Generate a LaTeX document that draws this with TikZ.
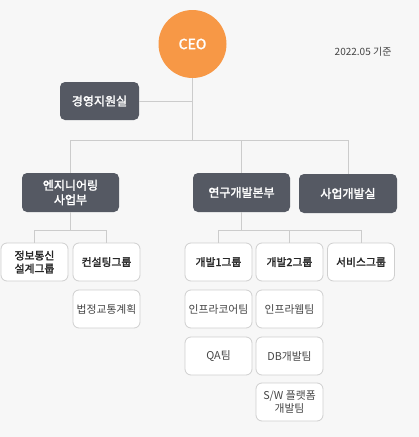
\documentclass[tikz,border=0pt]{standalone}
\usepackage{fontspec}
\setmainfont{Noto Sans CJK KR}
\newfontfamily\krbold{Noto Sans CJK KR}[FakeBold=2]
\definecolor{bgc}{HTML}{F7F7F7}
\definecolor{darkbox}{HTML}{555963}
\definecolor{orangec}{HTML}{F79846}
\definecolor{linec}{HTML}{CCCCCC}
\definecolor{boxline}{HTML}{CFCFCF}
\definecolor{grptext}{HTML}{262626}
\definecolor{teamtext}{HTML}{444444}
\begin{document}
\begin{tikzpicture}[x=1pt,y=-1pt,
  conn/.style={draw=linec, line width=0.9pt},
  darkbox/.style={rectangle, rounded corners=5pt, fill=darkbox, text=white, font=\krbold\fontsize{12}{14.5}\selectfont, align=center, inner sep=0pt},
  grpbox/.style={rectangle, rounded corners=6pt, fill=white, draw=boxline, line width=0.8pt, text=grptext, font=\krbold\fontsize{10.8}{13}\selectfont, align=center, inner sep=0pt, minimum width=67pt, minimum height=38pt},
  teambox/.style={rectangle, rounded corners=6pt, fill=white, draw=boxline, line width=0.8pt, text=teamtext, font=\fontsize{10.8}{13}\selectfont, align=center, inner sep=0pt, minimum width=67pt, minimum height=38pt}
]
\fill[bgc] (0,0) rectangle (419,437);
\useasboundingbox (0,0) rectangle (419,437);

% nodes
\node[circle, fill=orangec, minimum size=68pt, inner sep=0pt, text=white, font=\krbold\fontsize{14}{16}\selectfont] (ceo) at (192.5,44) {CEO};
\node[anchor=east, text=teamtext, font=\fontsize{10}{12}\selectfont] (date) at (395,52) {2022.05 기준};

\node[darkbox, minimum width=79pt, minimum height=38pt] (mgmt) at (99.5,101) {경영지원실};
\node[darkbox, minimum width=97pt, minimum height=39pt] (eng) at (70.5,192.5) {엔지니어링\\사업부};
\node[darkbox, minimum width=97pt, minimum height=39pt] (rnd) at (241.5,192.5) {연구개발본부};
\node[darkbox, minimum width=98pt, minimum height=39pt] (biz) at (348,193.5) {사업개발실};

\node[grpbox] (info) at (34.5,262) {정보통신\\설계그룹};
\node[grpbox] (cons) at (106.5,262) {컨설팅그룹};
\node[teambox] (law) at (106.5,309) {법정교통계획};

\node[grpbox] (dev1) at (218.5,262) {개발1그룹};
\node[grpbox] (dev2) at (289.5,262) {개발2그룹};
\node[grpbox] (svc) at (361,262) {서비스그룹};

\node[teambox] (core) at (218.5,309) {인프라코어팀};
\node[teambox] (web) at (289.5,309) {인프라웹팀};
\node[teambox] (qa) at (218.5,356) {QA팀};
\node[teambox] (db) at (289.5,356) {DB개발팀};
\node[teambox] (sw) at (289.5,402) {S/W 플랫폼\\개발팀};

% connectors
\coordinate (bus1) at (192.5,140);
\coordinate (bus2) at (70.5,230);
\coordinate (bus3) at (241.5,230);

\draw[conn] (ceo.south) -- (bus1);
\draw[conn] (mgmt.east) -- (mgmt.east -| ceo.south);
\draw[conn] (eng.north |- bus1) -- (biz.north |- bus1);
\draw[conn] (eng.north |- bus1) -- (eng.north);
\draw[conn] (rnd.north |- bus1) -- (rnd.north);
\draw[conn] (biz.north |- bus1) -- (biz.north);

\draw[conn] (eng.south) -- (bus2);
\draw[conn] (info.north |- bus2) -- (cons.north |- bus2);
\draw[conn] (info.north |- bus2) -- (info.north);
\draw[conn] (cons.north |- bus2) -- (cons.north);

\draw[conn] (rnd.south) -- (bus3);
\draw[conn] (dev1.north |- bus3) -- (svc.north |- bus3);
\draw[conn] (dev1.north |- bus3) -- (dev1.north);
\draw[conn] (dev2.north |- bus3) -- (dev2.north);
\draw[conn] (svc.north |- bus3) -- (svc.north);
\end{tikzpicture}
\end{document}
